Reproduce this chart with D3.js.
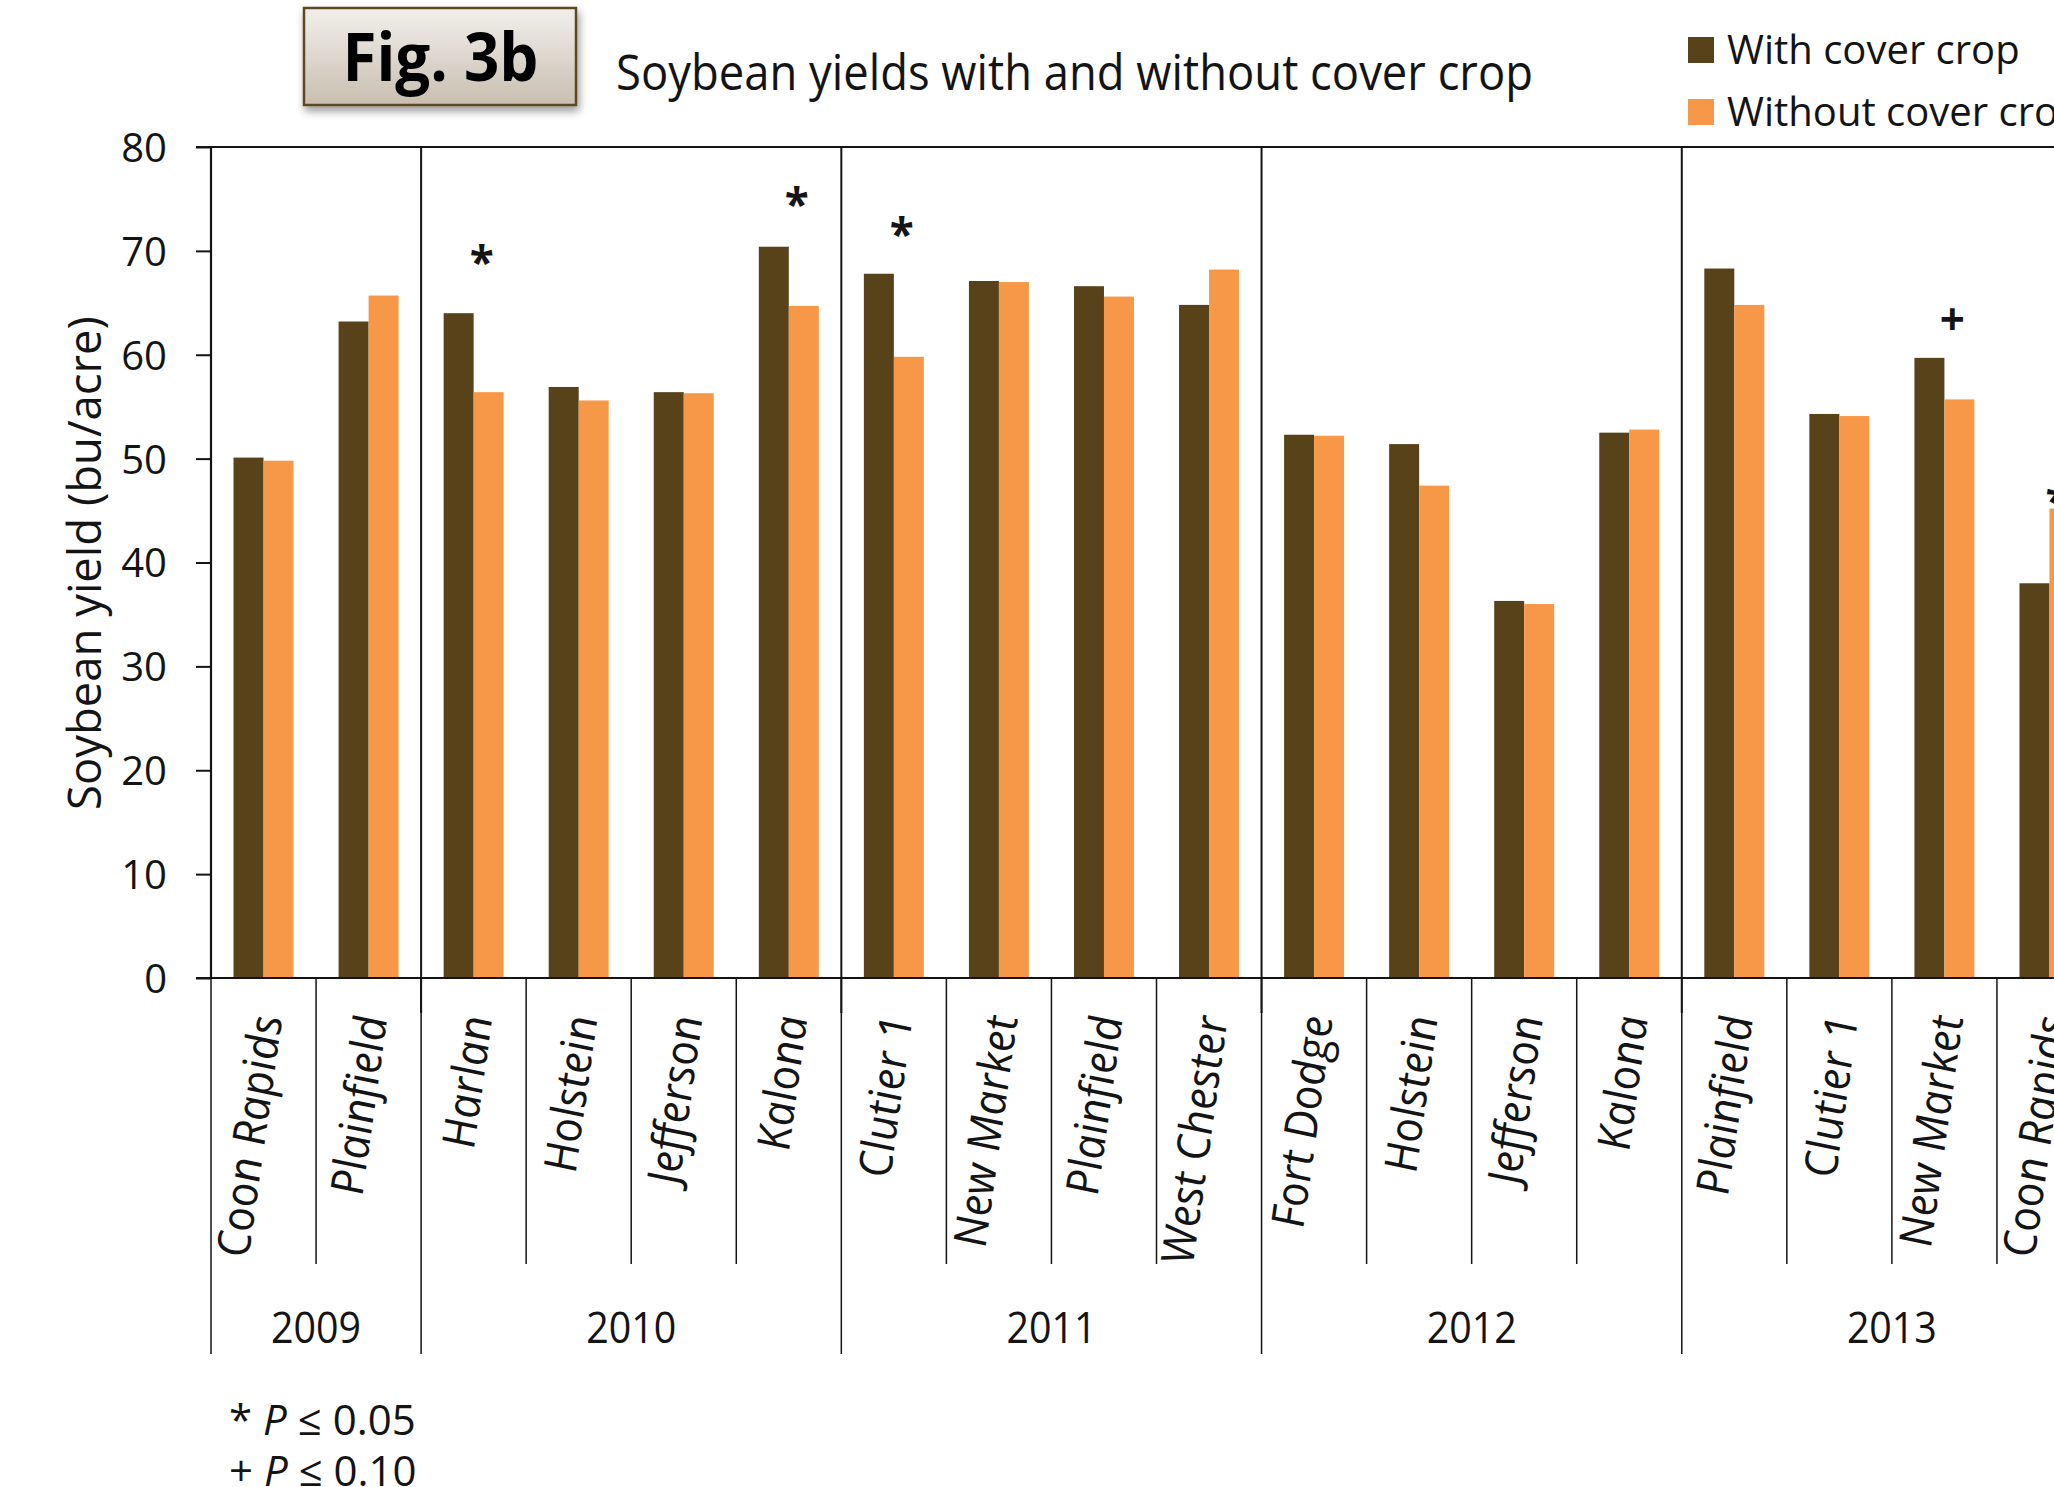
<!DOCTYPE html>
<html>
<head>
<meta charset="utf-8">
<script src="https://cdn.jsdelivr.net/npm/d3@7"></script>
<style>
  html, body { margin: 0; padding: 0; background: #fff; overflow: hidden; }
  svg { display: block; font-family: "Open Sans", "Noto Sans", sans-serif; }
</style>
</head>
<body>
<svg id="chart" width="2054" height="1487"></svg>
<script>
// Soybean yield (bu/acre) per site, grouped by year
const categories = ["Coon Rapids", "Plainfield", "Harlan", "Holstein", "Jefferson", "Kalona",
  "Clutier 1", "New Market", "Plainfield", "West Chester", "Fort Dodge", "Holstein",
  "Jefferson", "Kalona", "Plainfield", "Clutier 1", "New Market", "Coon Rapids"];
const years = ["2009", "2010", "2011", "2012", "2013"];
const sitesPerYear = [2, 4, 4, 4, 4];
const withCover = [50.1, 63.2, 64.0, 56.9, 56.4, 70.4, 67.8, 67.1, 66.6, 64.8,
  52.3, 51.4, 36.3, 52.5, 68.3, 54.3, 59.7, 38.0];
const withoutCover = [49.8, 65.7, 56.4, 55.6, 56.3, 64.7, 59.8, 67.0, 65.6, 68.2,
  52.2, 47.4, 36.0, 52.8, 64.8, 54.1, 55.7, 45.2];
const yTicks = [0, 10, 20, 30, 40, 50, 60, 70, 80];
// significance marks: site index, symbol, level (bu/acre) where the mark sits
const sigSite = [2, 5, 6, 16, 17];
const sigSymbol = ["*", "*", "*", "+", "*"];
const sigLevel = [69.6, 75.2, 72.3, 63.4, 46.6];
const seriesNames = ["With cover crop", "Without cover crop"];
const seriesColors = ["#58421a", "#f79848"];

const svg = d3.select("#chart");
const ink = "#141414";

const x0 = 211, x1 = 2102, yTop = 147, yBase = 978;
const x = d3.scaleBand().domain(d3.range(categories.length)).range([x0, x1])
  .paddingInner(0.429).paddingOuter(0.2145);
const xs = d3.scaleBand().domain([0, 1]).range([0, x.bandwidth()]);
const y = d3.scaleLinear().domain([0, 80]).range([yBase, yTop]);
const edge = k => x0 + k * x.step();

// defs: box gradient and shadow
const defs = svg.append("defs");
const grad = defs.append("linearGradient").attr("id", "boxFill")
  .attr("x1", 0).attr("y1", 0).attr("x2", 0).attr("y2", 1);
grad.append("stop").attr("offset", "0%").attr("stop-color", "#f2f0ec");
grad.append("stop").attr("offset", "100%").attr("stop-color", "#c9beb0");
const sh = defs.append("filter").attr("id", "shadow")
  .attr("x", "-10%").attr("y", "-10%").attr("width", "130%").attr("height", "140%");
sh.append("feDropShadow").attr("dx", 2).attr("dy", 5).attr("stdDeviation", 4)
  .attr("flood-color", "#000").attr("flood-opacity", 0.4);

// bars
const rows = categories.map((c, i) => ({ i, vals: [withCover[i], withoutCover[i]] }));
const g = svg.append("g");
g.selectAll("g.site").data(rows).join("g").attr("class", "site")
  .attr("transform", d => `translate(${x(d.i)},0)`)
  .selectAll("rect").data(d => d.vals.map((v, s) => ({ v, s }))).join("rect")
  .attr("x", d => xs(d.s)).attr("width", xs.bandwidth())
  .attr("y", d => y(d.v)).attr("height", d => yBase - y(d.v))
  .attr("fill", d => seriesColors[d.s]);

// frame lines
const lines = svg.append("g").attr("stroke", ink).attr("fill", "none");
lines.append("line").attr("x1", x0 - 15).attr("x2", x1).attr("y1", yTop).attr("y2", yTop).attr("stroke-width", 2);
lines.append("line").attr("x1", x0 - 15).attr("x2", x1).attr("y1", yBase).attr("y2", yBase).attr("stroke-width", 2);
lines.append("line").attr("x1", x0).attr("x2", x0).attr("y1", yTop).attr("y2", yBase).attr("stroke-width", 2.2);

// year boundaries
const bounds = [0];
sitesPerYear.forEach(n => bounds.push(bounds[bounds.length - 1] + n));
bounds.slice(1, -1).forEach(k => {
  lines.append("line").attr("x1", edge(k)).attr("x2", edge(k))
    .attr("y1", yTop).attr("y2", yBase + 35).attr("stroke-width", 2);
});
bounds.forEach(k => {
  lines.append("line").attr("x1", edge(k)).attr("x2", edge(k))
    .attr("y1", yBase).attr("y2", 1354).attr("stroke-width", 1.5);
});
d3.range(1, categories.length).filter(k => !bounds.includes(k)).forEach(k => {
  lines.append("line").attr("x1", edge(k)).attr("x2", edge(k))
    .attr("y1", yBase).attr("y2", 1264).attr("stroke-width", 1.5);
});

// y axis
const yAxis = svg.append("g").attr("transform", `translate(${x0},0)`)
  .call(d3.axisLeft(y).tickValues(yTicks).tickSize(15).tickPadding(29));
yAxis.select(".domain").remove();
yAxis.selectAll(".tick line").attr("stroke", ink).attr("stroke-width", 2);
yAxis.selectAll(".tick text").attr("font-size", 40).attr("fill", ink)
  .attr("font-family", "Open Sans").attr("dy", "0.36em");

svg.append("text")
  .attr("transform", `translate(101,563) rotate(-90)`)
  .attr("text-anchor", "middle").attr("font-size", 45).attr("fill", ink)
  .attr("textLength", 494).attr("lengthAdjust", "spacingAndGlyphs")
  .text("Soybean yield (bu/acre)");

// site labels: vertical italic text with a slight lean
svg.append("g").selectAll("text").data(categories).join("text")
  .attr("transform", (d, i) => `translate(${x(i) + x.bandwidth() / 2 + 19},1016) rotate(-90) skewY(8) scale(0.95,1)`)
  .attr("text-anchor", "end").attr("font-size", 46).attr("font-style", "italic").attr("fill", ink)
  .text(d => d);

// year labels
svg.append("g").selectAll("text").data(years).join("text")
  .attr("x", (d, j) => (edge(bounds[j]) + edge(bounds[j + 1])) / 2)
  .attr("y", 1343).attr("text-anchor", "middle").attr("font-size", 44).attr("fill", ink)
  .attr("textLength", 90).attr("lengthAdjust", "spacingAndGlyphs")
  .text(d => d);

// significance marks
svg.append("g").selectAll("text").data(sigSite).join("text")
  .attr("x", (d, k) => x(d) + x.bandwidth() / 2 + 8)
  .attr("y", (d, k) => y(sigLevel[k]) + (sigSymbol[k] === "*" ? 23 : 16))
  .attr("text-anchor", "middle").attr("font-size", 44).attr("font-weight", 700).attr("fill", ink)
  .text((d, k) => sigSymbol[k]);

// footnote
const notes = [["* ", "P", " \u2264 0.05"], ["+ ", "P", " \u2264 0.10"]];
notes.forEach((parts, r) => {
  const t = svg.append("text").attr("x", 229).attr("y", 1435 + r * 51)
    .attr("font-size", 42).attr("fill", ink);
  parts.forEach((p, j) => t.append("tspan").attr("font-style", j === 1 ? "italic" : "normal").text(p));
});

// title box
svg.append("rect").attr("x", 304).attr("y", 8).attr("width", 272).attr("height", 97)
  .attr("fill", "url(#boxFill)").attr("stroke", "#5b4a22").attr("stroke-width", 2.5)
  .attr("filter", "url(#shadow)");
svg.append("text").attr("x", 440.5).attr("y", 81).attr("text-anchor", "middle")
  .attr("font-size", 66).attr("font-weight", 700).attr("fill", "#000")
  .attr("textLength", 196).attr("lengthAdjust", "spacingAndGlyphs").text("Fig. 3b");
svg.append("text").attr("x", 616).attr("y", 90).attr("font-size", 49).attr("fill", ink)
  .attr("textLength", 917).attr("lengthAdjust", "spacingAndGlyphs")
  .text("Soybean yields with and without cover crop");

// legend
const leg = svg.append("g").selectAll("g").data(seriesNames).join("g")
  .attr("transform", (d, i) => `translate(1688,${37 + i * 62})`);
leg.append("rect").attr("width", 26).attr("height", 26).attr("fill", (d, i) => seriesColors[i]);
leg.append("text").attr("x", 39).attr("y", 27).attr("font-size", 40).attr("fill", ink).text(d => d);
</script>
</body>
</html>
